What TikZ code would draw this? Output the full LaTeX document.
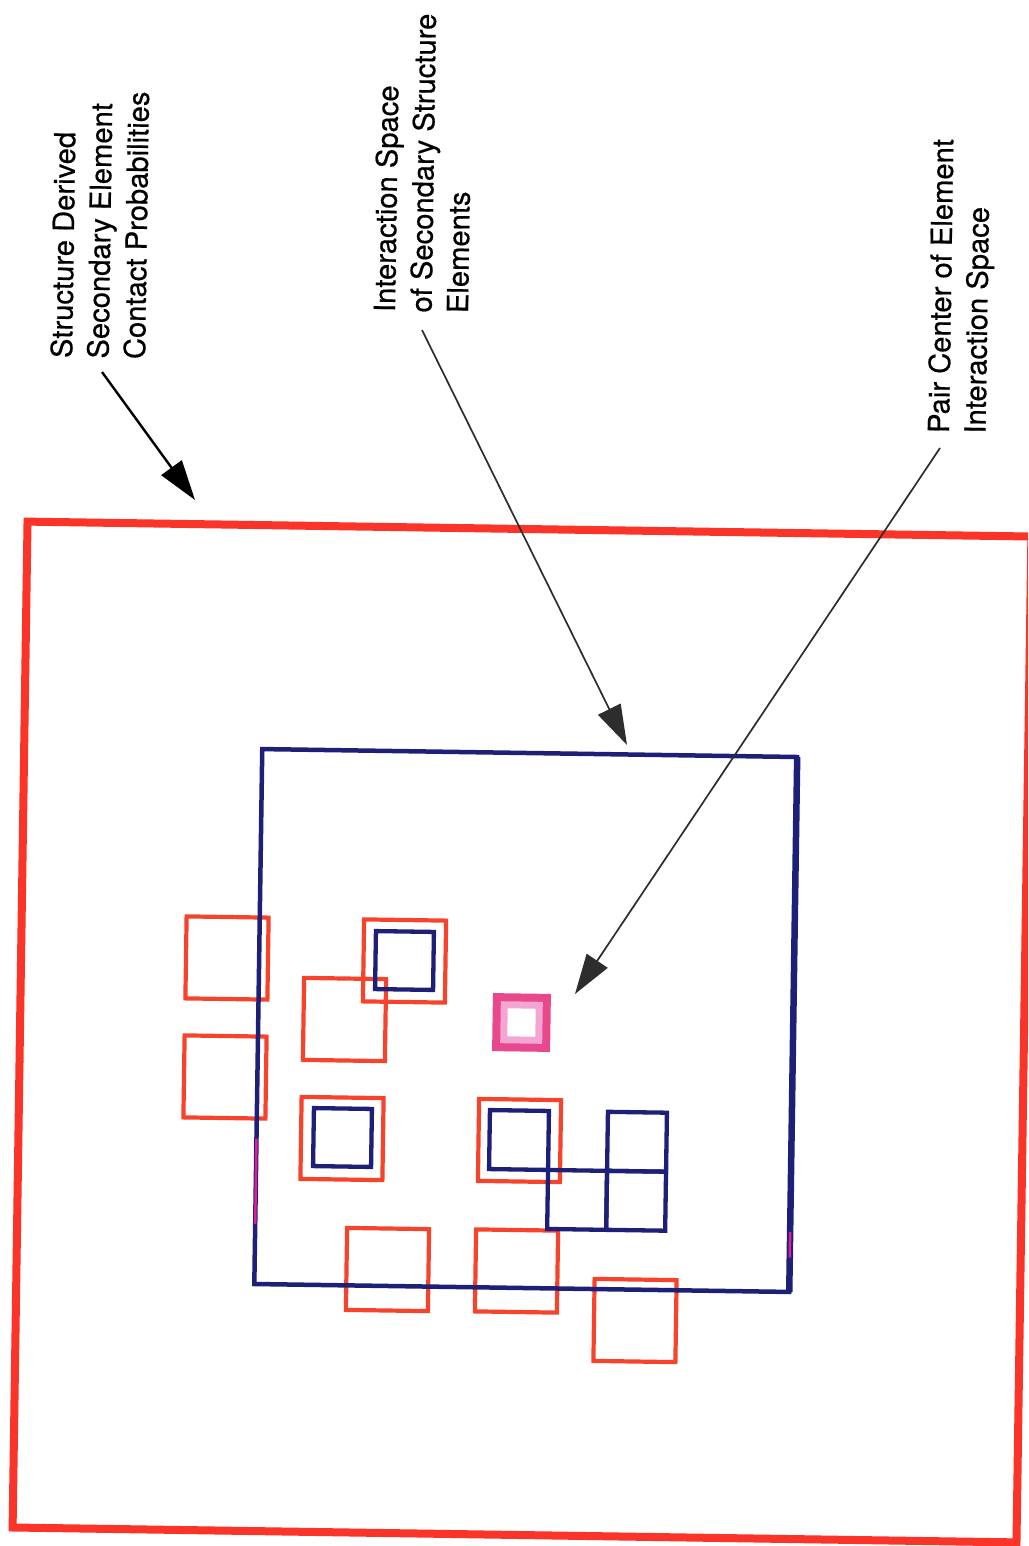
\documentclass[tikz,border=0pt]{standalone}
\usepackage{fontspec}
\setmainfont{TeX Gyre Heros}[FakeBold=0.5]
\usetikzlibrary{arrows.meta,calc}
\definecolor{framered}{RGB}{250,52,40}
\definecolor{boxred}{RGB}{246,68,44}
\definecolor{navy}{RGB}{30,32,120}
\definecolor{pinkdeep}{RGB}{232,72,140}
\definecolor{pinklight}{RGB}{243,165,212}
\definecolor{magentamark}{RGB}{225,30,150}
\definecolor{leadergray}{RGB}{45,45,45}

\begin{document}
\begin{tikzpicture}[x=1pt,y=-1pt,
  tilt/.style={rotate=-0.85},
  sqbox/.style={tilt, draw, inner sep=0pt, outer sep=0pt, minimum size=#1},
  redbox/.style={sqbox=82pt, draw=boxred, line width=4.2pt},
  bluebox/.style={sqbox=#1, draw=navy, line width=4.3pt},
  notetext/.style={font=\fontsize{29.2}{36.5}\selectfont, align=left,
    inner sep=0pt, rotate=89.15, anchor=north west},
  leader/.style={line width=#1, -{Triangle[length=40pt,width=25pt]}}
]
\useasboundingbox (0,0) rectangle (1028,1546);
\clip (0,0) rectangle (1028,1546);
\fill[white] (0,0) rectangle (1028,1546);

% outer frame: contact probabilities
\node[tilt, draw=framered, line width=8pt, inner sep=0pt, outer sep=0pt,
      minimum width=1004pt, minimum height=1006pt] (outer) at (522,1032) {};

% secondary structure elements (red squares)
\node[redbox] (r1) at (227,958) {};
\node[redbox] (r2) at (225,1077) {};
\node[redbox] (r3) at (404.5,961) {};
\node[redbox] (r4) at (344.5,1019.5) {};
\node[redbox] (r5) at (342,1138.5) {};
\node[redbox] (r6) at (519.5,1140.5) {};
\node[redbox] (r7) at (387.5,1269.5) {};
\node[redbox] (r8) at (516.5,1271) {};
\node[redbox] (r9) at (635,1320.5) {};

% interaction space (blue frame)
\node[bluebox=535pt, line width=4.5pt] (space) at (525.75,1020.5) {};
\draw[navy, line width=6.5pt] (space.north east) -- (space.south east);
\draw[magentamark, line width=2.5pt]
  ($(space.north west)!0.728!(space.south west)$) -- ($(space.north west)!0.888!(space.south west)$);
\draw[magentamark, line width=2.5pt]
  ($(space.north east)!0.888!(space.south east)$) -- ($(space.north east)!0.936!(space.south east)$);

% blue elements
\node[bluebox=58pt] (b3) at (404.5,960.5) {};
\node[bluebox=58pt] (b5) at (342.5,1137.5) {};
\node[bluebox=59pt] (ga) at (519,1140) {};
\node[bluebox=59pt] (gb) at (577.1,1199.9) {};
\node[bluebox=59pt] (gc) at (637,1141.75) {};
\node[bluebox=59pt] (gd) at (636.1,1200.75) {};

% pair center
\node[sqbox=58pt, draw=none, fill=pinkdeep] (pc) at (521.5,1022.5) {};
\node[sqbox=42pt, draw=none, fill=pinklight] (pcm) at (pc) {};
\node[sqbox=28pt, draw=none, fill=white] (pci) at (pc) {};

% labels
\node[notetext] (t1) at (50,358) {Structure Derived\\Secondary Element\\Contact Probabilities};
\node[notetext] (t2) at (373,312) {Interaction Space\\of Secondary Structure\\Elements};
\node[notetext] (t3) at (927,433) {Pair Center of Element\\Interaction Space};

% leaders
\coordinate (a1s) at (102,372);
\coordinate (a1e) at (195,500);
\coordinate (a2s) at (422,330);
\coordinate (a2e) at (627,745);
\coordinate (a3s) at (940,448);
\coordinate (a3e) at (575,994);
\draw[leader=2.4pt, black] (a1s) -- (a1e);
\draw[leader=1.7pt, leadergray] (a2s) -- (a2e);
\draw[leader=1.7pt, leadergray] (a3s) -- (a3e);
\end{tikzpicture}
\end{document}
